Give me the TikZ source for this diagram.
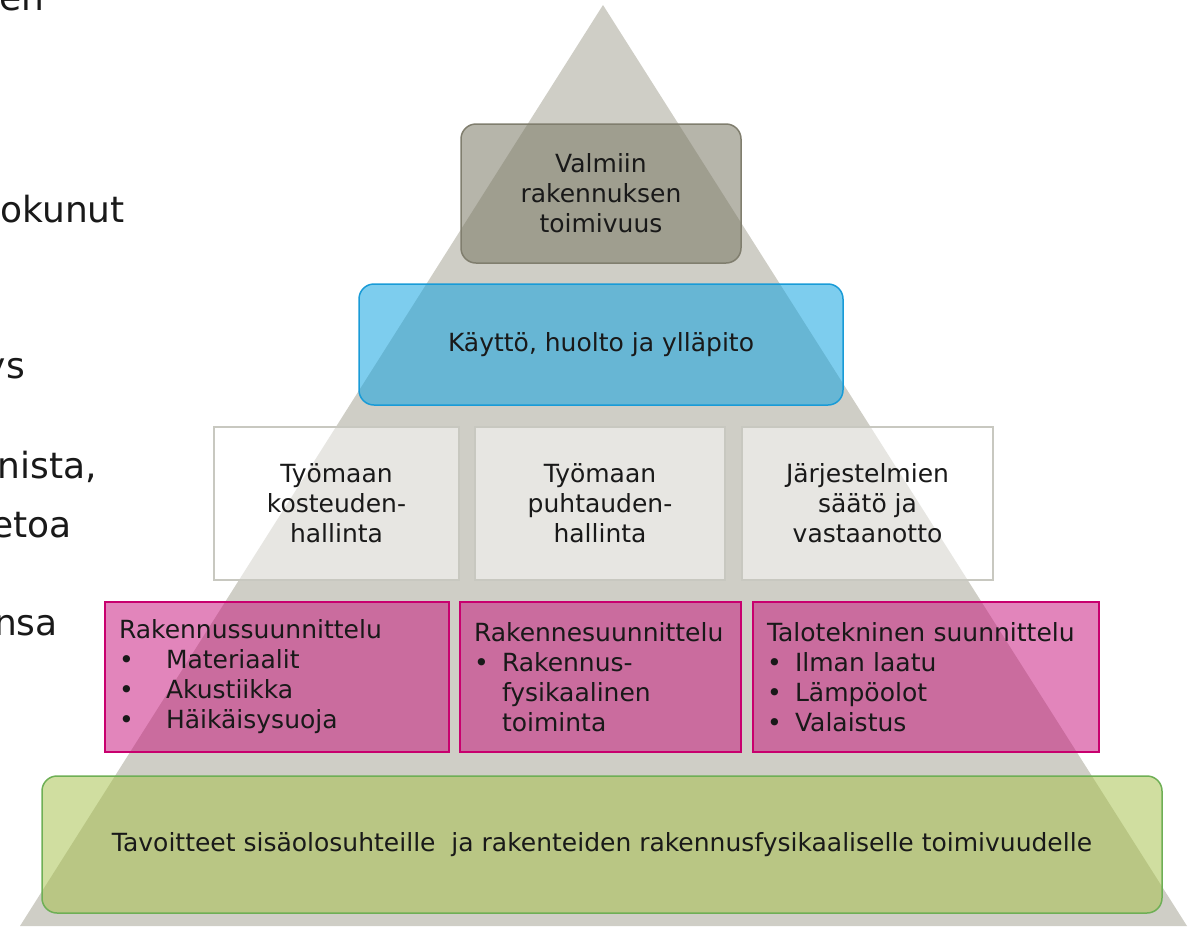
\documentclass[tikz,border=0pt]{standalone}
\usepackage{fontspec}
\setmainfont{DejaVu Sans}
\usepackage{tikz}

\hyphenpenalty=10000
\exhyphenpenalty=10000

\definecolor{pyramid}{RGB}{207,206,198}
\definecolor{topfill}{RGB}{120,118,98}
\definecolor{topline}{RGB}{128,126,110}
\definecolor{usefill}{RGB}{19,164,224}
\definecolor{useline}{RGB}{25,155,215}
\definecolor{siteline}{RGB}{200,200,192}
\definecolor{designfill}{RGB}{198,12,120}
\definecolor{designline}{RGB}{200,0,110}
\definecolor{goalfill}{RGB}{165,192,73}
\definecolor{goalline}{RGB}{110,175,85}
\definecolor{ink}{RGB}{25,25,25}

\begin{document}
\begin{tikzpicture}
				[x=1pt,y=-1pt,every node/.style={font=\fontsize{25}{30}\selectfont,text=ink,inner sep=0pt,text opacity=1},
				topbox/.style={draw=topline,line width=1.5pt,fill=topfill,fill opacity=.54,rounded corners=15pt,align=center,minimum width=280pt,minimum height=139pt},
				usebox/.style={draw=useline,line width=1.5pt,fill=usefill,fill opacity=.55,rounded corners=15pt,minimum width=484pt,minimum height=121pt},
				sitebox/.style={draw=siteline,line width=1.5pt,fill=white,fill opacity=.5,align=center,minimum width=#1,minimum height=153pt},
				designbox/.style={draw=designline,line width=1.2pt,fill=designfill,fill opacity=.5,align=left,inner xsep=14pt,text width=#1,minimum height=150pt},
				goalbox/.style={draw=goalline,line width=1.5pt,fill=goalfill,fill opacity=.52,rounded corners=15pt,minimum width=1120pt,minimum height=137pt},
				frag/.style={font=\fontsize{36}{43}\selectfont,anchor=base east}]
				\useasboundingbox (0,0) rectangle (1193,927);
				
				% cut-off slide text on the left
				\foreach \txt/\xx/\yy [count=\i] in {en/45/10,okunut/125/222,ys/25/378,{nista,}/97/478,etoa/72/537,nsa/58/635}
				\node[frag] (frag\i) at (\xx,\yy) {\txt};
				
				\fill[pyramid] (603,5) -- (1187,926) -- (20,926) -- cycle;
				
				\node[topbox] (top) at (601,193.5) {Valmiin\\rakennuksen\\toimivuus};
				\node[usebox] (use) at (601,344.5) {Käyttö, huolto ja ylläpito};
				
				\node[sitebox=245pt] (site1) at (336.5,503.5) {Työmaan\\kosteuden-\\hallinta};
				\node[sitebox=250pt] (site2) at (600,503.5) {Työmaan\\puhtauden-\\hallinta};
				\node[sitebox=251pt] (site3) at (867.5,503.5) {Järjestelmien\\säätö ja\\vastaanotto};
				
				\node[designbox=316pt] (arch) at (277,677) {Rakennussuunnittelu\\\makebox[47pt][l]{•}Materiaalit\\\makebox[47pt][l]{•}Akustiikka\\\makebox[47pt][l]{•}Häikäisysuoja};
				\node[designbox=253pt] (struct) at (600.5,677) {Rakennesuunnittelu\\\makebox[28pt][l]{•}Rakennus-\\\hspace*{28pt}fysikaalinen\\\hspace*{28pt}toiminta};
				\node[designbox=318pt] (hvac) at (926,677) {Talotekninen suunnittelu\\\makebox[28pt][l]{•}Ilman laatu\\\makebox[28pt][l]{•}Lämpöolot\\\makebox[28pt][l]{•}Valaistus};
				
				\node[goalbox] (goal) at (602,844.5) {Tavoitteet sisäolosuhteille\ \ ja rakenteiden rakennusfysikaaliselle toimivuudelle};
				
				\end{tikzpicture}
\end{document}
